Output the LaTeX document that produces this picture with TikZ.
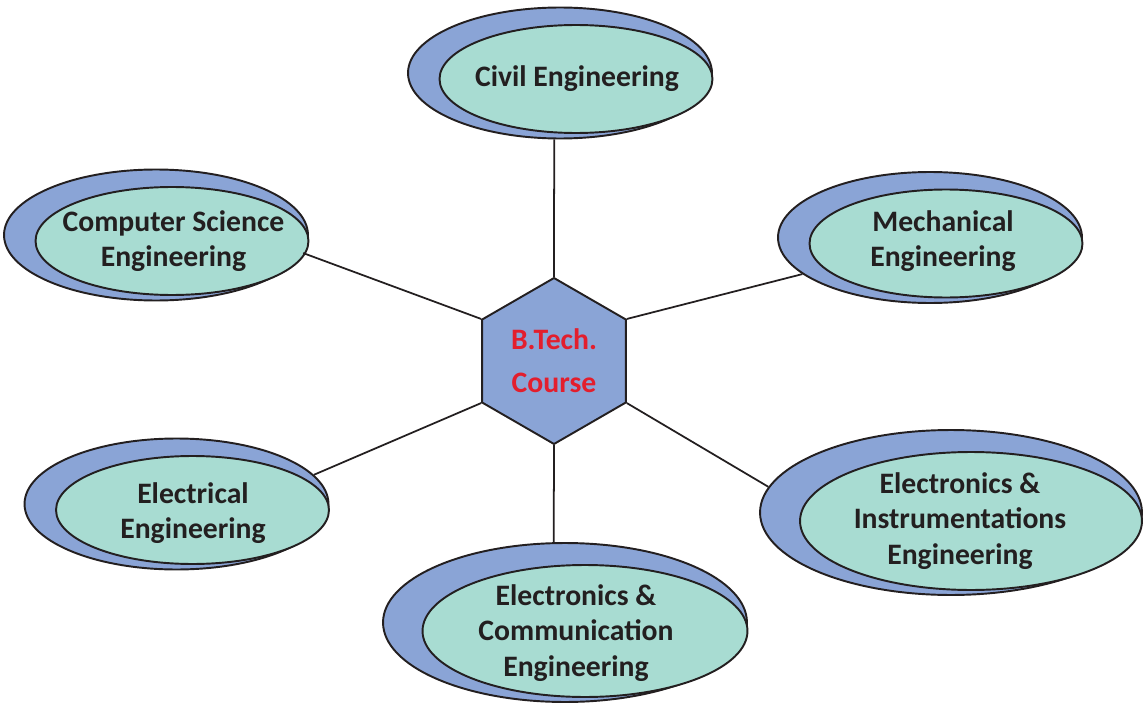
\documentclass[tikz,border=0pt]{standalone}
\usepackage{fontspec}
\setmainfont{Carlito}
\usetikzlibrary{shapes,calc,positioning}
\definecolor{ringblue}{RGB}{138,164,214}
\definecolor{ringteal}{RGB}{168,220,210}
\definecolor{inkdark}{RGB}{35,31,32}
\definecolor{headred}{RGB}{227,30,45}
\tikzset{
	outring/.style={ellipse,draw=inkdark,fill=ringblue,line width=1.1pt,inner sep=0,minimum width=6.08cm,minimum height=2.62cm},
	inring/.style={ellipse,draw=inkdark,fill=ringteal,line width=1.1pt,inner sep=0,minimum width=5.46cm,minimum height=2.16cm},
	bigout/.style={outring,minimum width=7.64cm,minimum height=3.30cm},
	bigin/.style={inring,minimum width=6.84cm,minimum height=2.76cm},
	branchname/.style={align=center,text=inkdark,font=\bfseries\fontsize{16.9}{20}\selectfont},
	hub/.style={regular polygon,regular polygon sides=6,shape border rotate=30,draw=inkdark,fill=ringblue,line width=1.1pt,inner sep=0,minimum size=3.32cm,align=center,text=headred,font=\bfseries\fontsize{16.9}{24.5}\selectfont},
	spoke/.style={draw=inkdark,line width=1pt}
}
\begin{document}
\begin{tikzpicture}[x=0.02cm,y=-0.02cm]
		% shift of the inner ring against the outer one
		\def\sx{16} \def\sy{6}
		\def\bx{20} \def\by{8.5}
		\useasboundingbox (0,0) rectangle (1144,703);
		
		\node[hub] (hex) at (554,361) {B.Tech.\\Course};
		
		\node[outring] (civo) at (560,73) {};
		\node[inring] (civi) at ($(civo)+(\sx,\sy)$) {};
		\node[branchname] (civt) at (577,79) {Civil Engineering};
		
		\node[outring] (cso) at (156,235) {};
		\node[inring] (csi) at ($(cso)+(\sx,\sy)$) {};
		\node[branchname] (cst) at (173.5,241) {Computer Science\\Engineering};
		
		\node[outring] (meo) at (930,237.5) {};
		\node[inring] (mei) at ($(meo)+(\sx,\sy)$) {};
		\node[branchname] (met) at (943,241) {Mechanical\\Engineering};
		
		\node[outring] (elo) at (176.5,504) {};
		\node[inring] (eli) at ($(elo)+(\sx,\sy)$) {};
		\node[branchname] (elt) at (193,513) {Electrical\\Engineering};
		
		\node[bigout] (eio) at (951,512.5) {};
		\node[bigin] (eii) at ($(eio)+(\bx,\by)$) {};
		\node[branchname] (eit) at (960,521) {Electronics \&\\Instrumentations\\Engineering};
		
		\node[bigout,minimum width=7.28cm,minimum height=3.18cm] (eco) at (565,622.5) {};
		\node[bigin,minimum width=6.50cm,minimum height=2.64cm] (eci) at ($(eco)+(\bx,\by)$) {};
		\node[branchname] (ect) at (576,633) {Electronics \&\\Communication\\Engineering};
		
		% spokes from the hexagon corners
		\draw[spoke] (hex.90) -- (civo.265);
		\draw[spoke] (hex.150) -- (cso.-7);
		\draw[spoke] (hex.30) -- (meo.196);
		\draw[spoke] (hex.210) -- (elo.12);
		\draw[spoke] (hex.330) -- (eio.172);
		\draw[spoke] (hex.270) -- (eco.98);
		
\end{tikzpicture}
\end{document}
